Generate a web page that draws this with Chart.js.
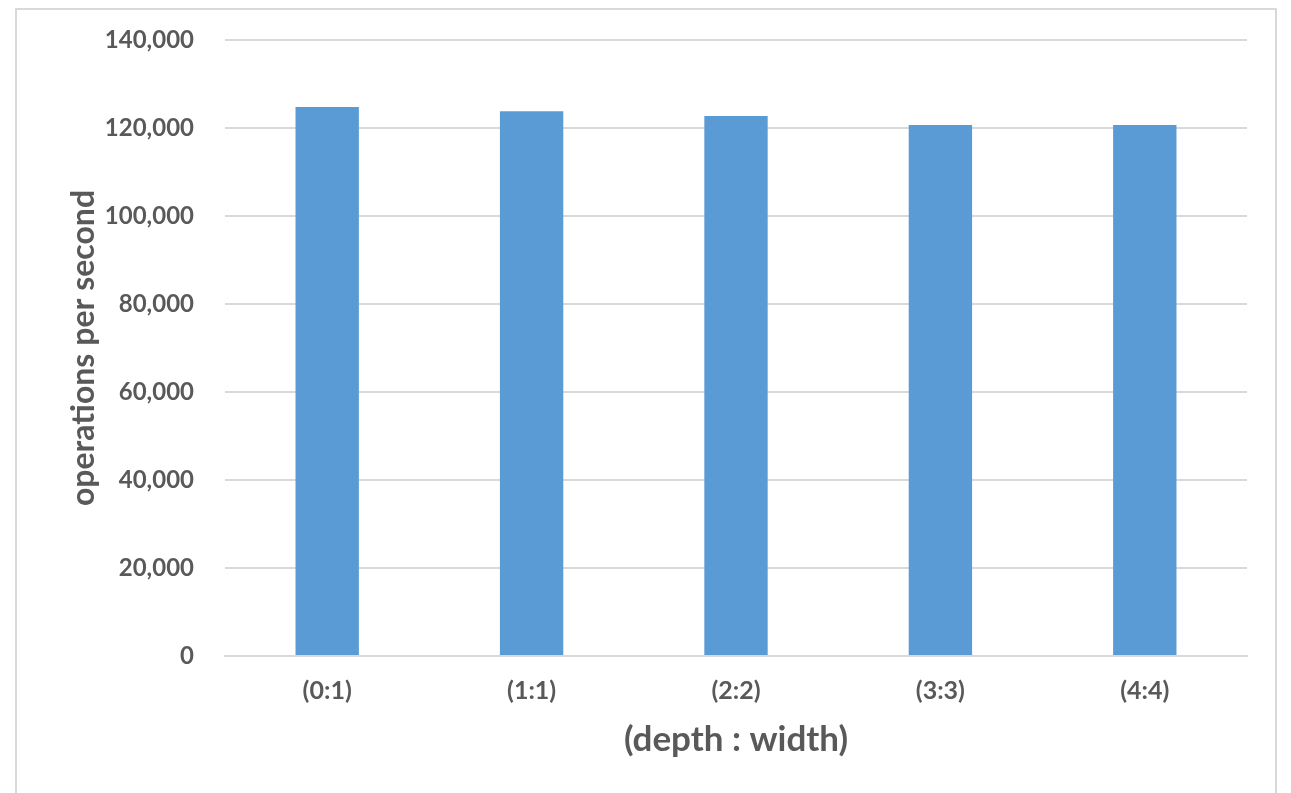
<!DOCTYPE html>
<html lang="en">
<head>
    <meta charset="UTF-8">
    <title>Operations per second by depth : width</title>
    <style>
        body {
            margin: 0;
            background: #ffffff;
            font-family: Lato, "Open Sans", sans-serif;
        }
        .frame {
            position: absolute;
            left: 15px;
            top: 8px;
            width: 1262px;
            height: 800px;
            border: 2px solid #d9d9d9;
            box-sizing: border-box;
        }
        .wrap {
            position: absolute;
            left: 0;
            top: 0;
            width: 1291px;
            height: 793px;
        }
    </style>
</head>
<body>
    <div class="frame"></div>
    <div class="wrap">
        <canvas id="opsChart" width="1291" height="793"></canvas>
    </div>

    <script src="https://cdn.jsdelivr.net/npm/chart.js"></script>
    <script>
        // data
        const categories = ['(0:1)', '(1:1)', '(2:2)', '(3:3)', '(4:4)'];
        const opsPerSecond = [124800, 123800, 122700, 120700, 120700];
        const yTicks = [0, 20000, 40000, 60000, 80000, 100000, 120000, 140000];

        const textColor = '#595959';
        const gridColor = '#d9d9d9';

        const ctx = document.getElementById('opsChart').getContext('2d');
        const opsChart = new Chart(ctx, {
            type: 'bar',
            data: {
                labels: categories,
                datasets: [{
                    label: 'operations per second',
                    data: opsPerSecond,
                    backgroundColor: '#5b9bd5',
                    borderWidth: 0,
                    barPercentage: 0.31,
                    categoryPercentage: 1
                }]
            },
            options: {
                responsive: false,
                animation: false,
                layout: {
                    padding: { left: 64, right: 44, top: 40, bottom: 20 }
                },
                plugins: {
                    legend: { display: false },
                    tooltip: { enabled: false }
                },
                scales: {
                    y: {
                        min: 0,
                        max: 140000,
                        afterBuildTicks: (axis) => {
                            axis.ticks = yTicks.map(v => ({ value: v }));
                        },
                        afterFit: (axis) => {
                            axis.width = 161;
                            // tick padding would otherwise push the plot top down
                            axis.paddingTop = 10;
                            axis.paddingBottom = 10;
                        },
                        border: { display: false },
                        grid: { color: gridColor, lineWidth: 2, drawTicks: false },
                        ticks: {
                            color: textColor,
                            padding: 31,
                            font: { family: 'Lato', size: 24, weight: 'bold' },
                            callback: (v) => v.toLocaleString('en-US')
                        },
                        title: {
                            display: true,
                            text: 'operations per second',
                            color: textColor,
                            padding: 0,
                            font: { family: 'Lato', size: 32, weight: 'bold' }
                        }
                    },
                    x: {
                        afterFit: (axis) => { axis.height = 117; },
                        border: { color: gridColor, width: 2 },
                        grid: { display: false },
                        ticks: {
                            color: textColor,
                            padding: 12,
                            font: { family: 'Lato', size: 25, weight: 'bold' }
                        },
                        title: {
                            display: true,
                            text: '(depth : width)',
                            color: textColor,
                            padding: { top: 0, bottom: 12 },
                            font: { family: 'Lato', size: 35, weight: 'bold' }
                        }
                    }
                }
            }
        });
    </script>
</body>
</html>
